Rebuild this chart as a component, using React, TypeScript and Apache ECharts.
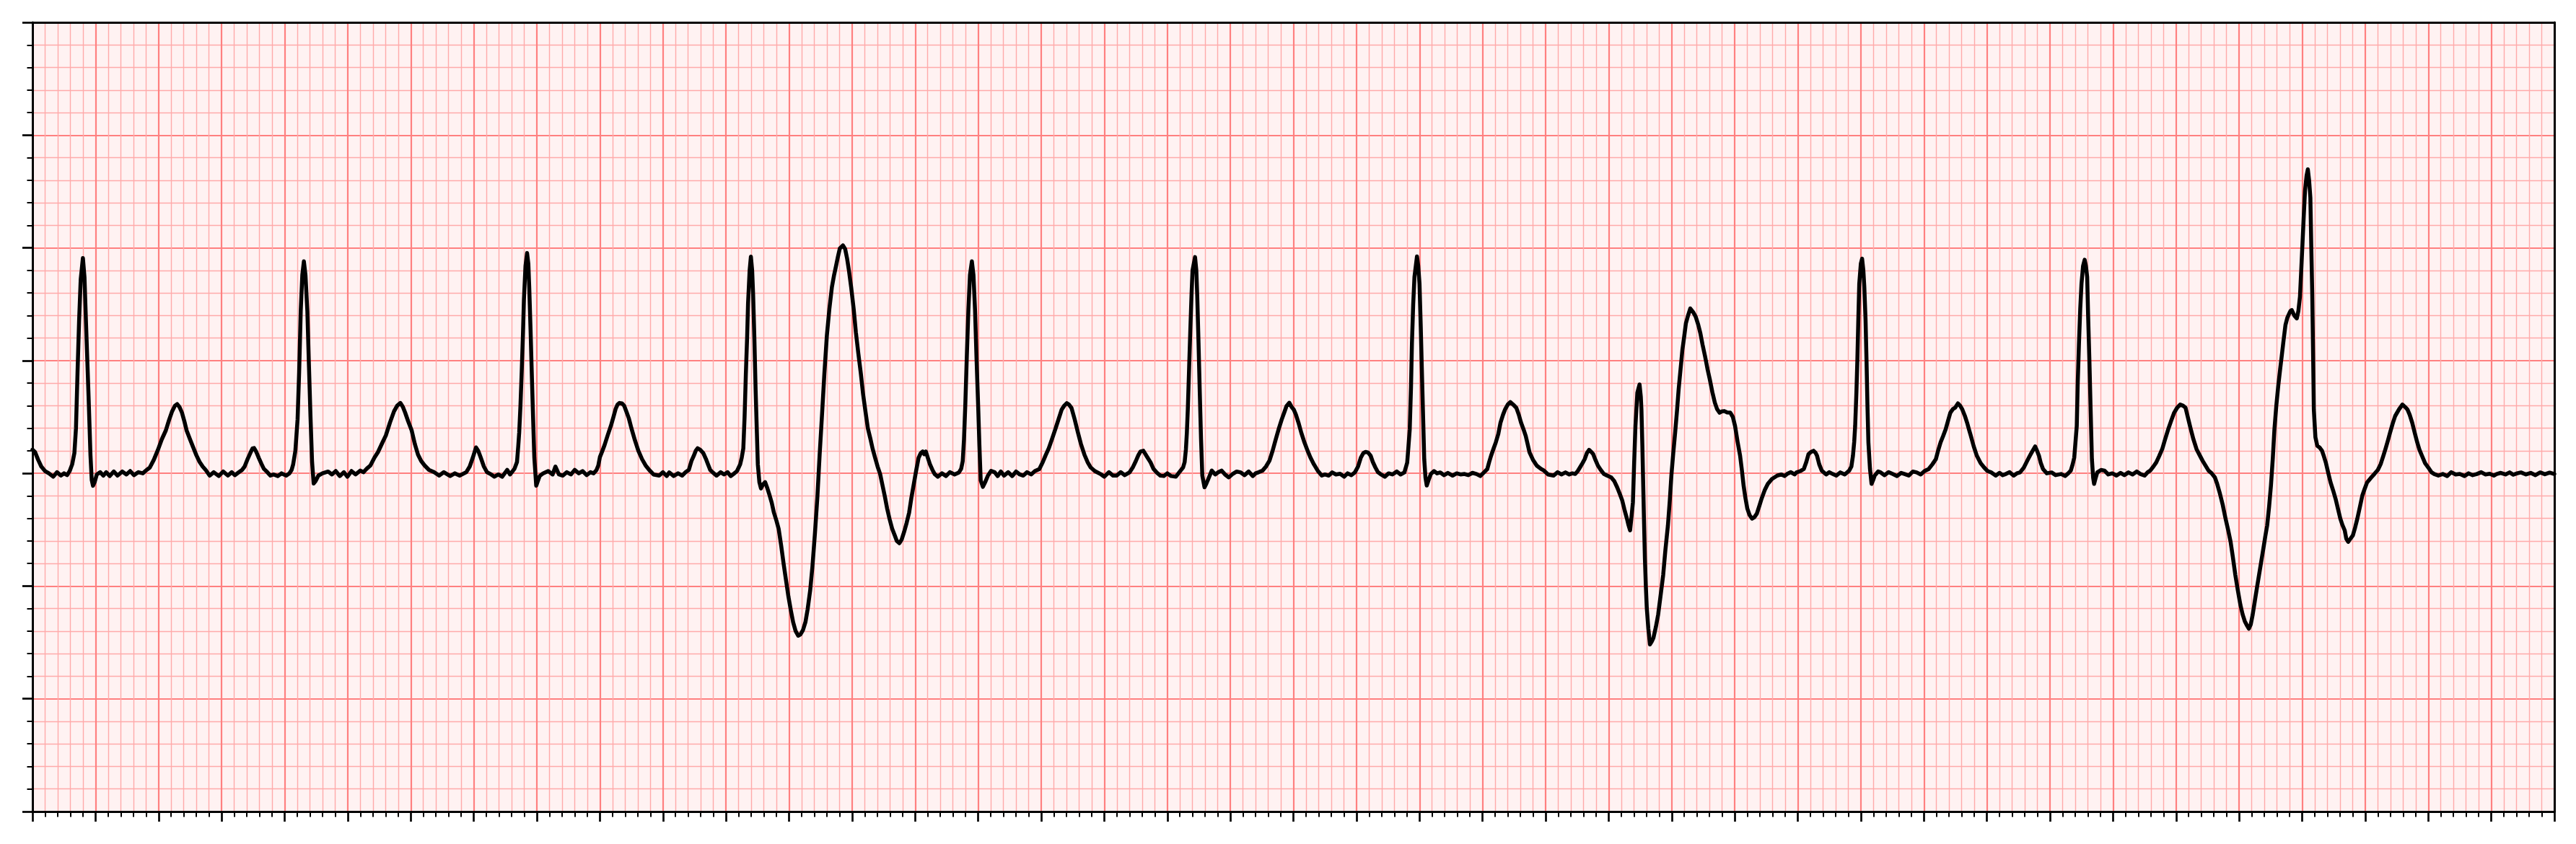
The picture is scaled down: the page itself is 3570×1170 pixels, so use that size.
import React, { useEffect, useRef } from "react";
import * as echarts from "echarts";

// ECG trace: [time (s), voltage (mV)], split by stretch of strip
const stripA = [
  [0.000, 0.105], [0.008, 0.095], [0.018, 0.06], [0.028, 0.03], [0.040, 0.01], [0.052, 0.0], [0.066, -0.015],
  [0.078, 0.005], [0.090, -0.01], [0.100, 0.0], [0.110, -0.008], [0.118, 0.01], [0.126, 0.04], [0.133, 0.09],
  [0.138, 0.2], [0.143, 0.45], [0.148, 0.68], [0.153, 0.86], [0.160, 0.955], [0.165, 0.87], [0.170, 0.66],
  [0.178, 0.34], [0.184, 0.08], [0.188, -0.03], [0.192, -0.055], [0.197, -0.04], [0.204, -0.005], [0.215, 0.005],
  [0.225, -0.01], [0.234, 0.005], [0.245, -0.012], [0.258, 0.008], [0.270, -0.01], [0.285, 0.008], [0.298, -0.005],
  [0.310, 0.01], [0.322, -0.008], [0.336, 0.005], [0.350, 0.0], [0.362, 0.015], [0.372, 0.025], [0.385, 0.06],
  [0.398, 0.104], [0.410, 0.15], [0.423, 0.19], [0.433, 0.235], [0.443, 0.275], [0.452, 0.3], [0.459, 0.307],
  [0.466, 0.295], [0.474, 0.27], [0.482, 0.23], [0.489, 0.19], [0.500, 0.15], [0.510, 0.115], [0.520, 0.08],
  [0.530, 0.051], [0.540, 0.03], [0.550, 0.014], [0.562, -0.01], [0.575, 0.005], [0.591, -0.012], [0.605, 0.008],
  [0.620, -0.01], [0.632, 0.005], [0.642, -0.008], [0.655, 0.005], [0.665, 0.015], [0.673, 0.03], [0.683, 0.065],
  [0.691, 0.09], [0.698, 0.11], [0.703, 0.112], [0.710, 0.095], [0.719, 0.065], [0.727, 0.04], [0.734, 0.02],
  [0.745, 0.005], [0.755, -0.01], [0.765, -0.005], [0.778, -0.012], [0.790, 0.0], [0.805, -0.01], [0.815, 0.0],
  [0.822, 0.015], [0.827, 0.04], [0.834, 0.1], [0.841, 0.24], [0.846, 0.45], [0.851, 0.72], [0.856, 0.88],
  [0.861, 0.94], [0.866, 0.88], [0.872, 0.72], [0.877, 0.48], [0.882, 0.25], [0.887, 0.05], [0.892, -0.045],
  [0.898, -0.035], [0.907, -0.01], [0.920, 0.0], [0.938, 0.008], [0.950, -0.005], [0.962, 0.01], [0.975, -0.012],
  [0.988, 0.005], [0.999, -0.015], [1.012, 0.01], [1.025, -0.005], [1.040, 0.012], [1.050, 0.005], [1.060, 0.02],
  [1.072, 0.035], [1.085, 0.07], [1.096, 0.094], [1.108, 0.13], [1.121, 0.168], [1.134, 0.225], [1.147, 0.275],
  [1.157, 0.3], [1.167, 0.312], [1.175, 0.295], [1.182, 0.27], [1.192, 0.23], [1.203, 0.19], [1.213, 0.13],
  [1.223, 0.083], [1.233, 0.055], [1.244, 0.035], [1.258, 0.015], [1.274, 0.005], [1.290, -0.01], [1.305, 0.005],
  [1.325, -0.012], [1.340, 0.0], [1.355, -0.01], [1.376, 0.005], [1.387, 0.03], [1.397, 0.07], [1.407, 0.115],
  [1.414, 0.1], [1.422, 0.07], [1.432, 0.03], [1.442, 0.005], [1.455, -0.005],
];

const stripB = [
  [1.465, -0.015], [1.478, -0.005], [1.490, -0.015], [1.506, 0.015], [1.515, -0.005], [1.529, 0.02], [1.537, 0.05],
  [1.541, 0.12], [1.544, 0.18], [1.548, 0.3], [1.552, 0.45], [1.556, 0.62], [1.559, 0.77], [1.564, 0.92],
  [1.569, 0.977], [1.573, 0.93], [1.576, 0.82], [1.580, 0.64], [1.584, 0.44], [1.588, 0.25], [1.592, 0.07],
  [1.598, -0.055], [1.603, -0.035], [1.609, -0.012], [1.620, 0.0], [1.636, 0.01], [1.650, -0.005], [1.659, 0.03],
  [1.670, -0.005], [1.682, -0.01], [1.695, 0.005], [1.708, -0.005], [1.720, 0.015], [1.733, 0.0], [1.745, 0.01],
  [1.758, -0.008], [1.770, 0.005], [1.780, 0.0], [1.789, 0.014], [1.795, 0.035], [1.800, 0.072], [1.808, 0.1],
  [1.815, 0.126], [1.825, 0.17], [1.835, 0.211], [1.843, 0.25], [1.850, 0.286], [1.856, 0.305], [1.862, 0.312],
  [1.870, 0.31], [1.877, 0.3], [1.885, 0.27], [1.892, 0.243], [1.900, 0.2], [1.911, 0.147], [1.922, 0.1],
  [1.934, 0.062], [1.945, 0.035], [1.957, 0.014], [1.970, -0.005], [1.988, -0.01], [2.000, 0.005], [2.012, -0.012],
  [2.020, 0.004], [2.034, -0.012], [2.048, 0.0], [2.061, -0.01], [2.072, 0.005], [2.082, 0.015], [2.091, 0.057],
  [2.097, 0.075], [2.104, 0.1], [2.110, 0.111], [2.118, 0.105], [2.128, 0.09], [2.136, 0.065], [2.143, 0.04],
  [2.150, 0.015], [2.158, 0.004], [2.170, -0.01], [2.183, 0.005], [2.194, -0.005],
];

const stripC = [
  [2.205, 0.005], [2.215, -0.012], [2.224, -0.003], [2.235, 0.01], [2.245, 0.04], [2.250, 0.07], [2.255, 0.111],
  [2.259, 0.25], [2.263, 0.44], [2.267, 0.6], [2.270, 0.754], [2.275, 0.9], [2.279, 0.961], [2.283, 0.9],
  [2.286, 0.797], [2.290, 0.6], [2.294, 0.369], [2.298, 0.18], [2.301, 0.04], [2.306, -0.04], [2.311, -0.067],
  [2.317, -0.05], [2.324, -0.039], [2.331, -0.065], [2.338, -0.096], [2.345, -0.13], [2.352, -0.174], [2.360, -0.21],
  [2.367, -0.246], [2.375, -0.32], [2.383, -0.403], [2.390, -0.47], [2.398, -0.546], [2.406, -0.61], [2.413, -0.66],
  [2.421, -0.7], [2.429, -0.72], [2.436, -0.715], [2.444, -0.696], [2.452, -0.66], [2.459, -0.603], [2.467, -0.52],
  [2.474, -0.417], [2.482, -0.27], [2.490, -0.103], [2.497, 0.08], [2.505, 0.269], [2.512, 0.44], [2.520, 0.611],
  [2.528, 0.73], [2.536, 0.826], [2.543, 0.88], [2.549, 0.919], [2.555, 0.96], [2.561, 0.997], [2.571, 1.011],
  [2.578, 0.995], [2.584, 0.954], [2.590, 0.9], [2.597, 0.826], [2.605, 0.73], [2.612, 0.626], [2.620, 0.53],
  [2.628, 0.44], [2.635, 0.35], [2.643, 0.269], [2.650, 0.2], [2.658, 0.154], [2.665, 0.11], [2.673, 0.069],
  [2.681, 0.03], [2.689, -0.003], [2.696, -0.05], [2.704, -0.103], [2.711, -0.155], [2.719, -0.203], [2.727, -0.245],
  [2.735, -0.274], [2.742, -0.3], [2.750, -0.31], [2.757, -0.295], [2.765, -0.26], [2.773, -0.22], [2.781, -0.174],
  [2.788, -0.11], [2.796, -0.046], [2.803, 0.01], [2.811, 0.069], [2.818, 0.09], [2.824, 0.097], [2.829, 0.085],
  [2.834, 0.097], [2.840, 0.07], [2.847, 0.04], [2.855, 0.015], [2.862, -0.003], [2.872, -0.015], [2.885, 0.0],
  [2.898, -0.012], [2.910, 0.005], [2.925, -0.005], [2.939, 0.004], [2.946, 0.02], [2.951, 0.054], [2.955, 0.15],
  [2.959, 0.297], [2.964, 0.52], [2.969, 0.726], [2.974, 0.88], [2.980, 0.94], [2.985, 0.88], [2.990, 0.726],
  [2.995, 0.5], [3.000, 0.297], [3.004, 0.12], [3.008, -0.031], [3.015, -0.06], [3.022, -0.04], [3.031, -0.01],
  [3.041, 0.011], [3.052, 0.005], [3.062, -0.012], [3.072, 0.008], [3.082, -0.01], [3.095, 0.005], [3.108, -0.012],
  [3.120, 0.008], [3.132, -0.005], [3.143, -0.01], [3.155, 0.005], [3.168, -0.005], [3.180, 0.01], [3.194, 0.019],
  [3.205, 0.05], [3.214, 0.08], [3.224, 0.111], [3.235, 0.155], [3.245, 0.197], [3.255, 0.24], [3.265, 0.283],
  [3.273, 0.3], [3.281, 0.311], [3.288, 0.305], [3.296, 0.29], [3.306, 0.24], [3.316, 0.183], [3.326, 0.13],
  [3.337, 0.083], [3.347, 0.05], [3.357, 0.026], [3.370, 0.01], [3.388, -0.003], [3.400, -0.015], [3.415, 0.005],
  [3.428, -0.01], [3.439, -0.01], [3.452, 0.005], [3.465, -0.008], [3.480, 0.004], [3.490, 0.025],
];

const stripD = [
  [3.500, 0.054], [3.508, 0.08], [3.515, 0.097], [3.524, 0.1], [3.535, 0.075], [3.547, 0.048], [3.556, 0.02],
  [3.566, 0.004], [3.578, -0.01], [3.589, -0.012], [3.600, 0.0], [3.612, -0.012], [3.627, -0.015], [3.638, 0.005],
  [3.650, 0.026], [3.655, 0.05], [3.659, 0.107], [3.662, 0.18], [3.665, 0.283], [3.669, 0.46], [3.673, 0.636],
  [3.677, 0.8], [3.680, 0.9], [3.688, 0.959], [3.692, 0.9], [3.695, 0.783], [3.699, 0.58], [3.703, 0.357],
  [3.707, 0.15], [3.711, -0.01], [3.718, -0.062], [3.724, -0.045], [3.730, -0.025], [3.741, 0.012], [3.752, -0.005],
  [3.762, 0.005], [3.772, 0.012], [3.783, -0.005], [3.795, -0.018], [3.808, -0.002], [3.820, 0.008], [3.833, 0.004],
  [3.845, -0.008], [3.858, 0.008], [3.871, -0.012], [3.880, 0.0], [3.890, 0.005], [3.902, 0.012], [3.913, 0.03],
  [3.924, 0.056], [3.934, 0.1], [3.944, 0.151], [3.953, 0.195], [3.963, 0.239], [3.971, 0.27], [3.978, 0.298],
  [3.987, 0.313], [3.994, 0.295], [4.001, 0.283], [4.008, 0.26], [4.016, 0.225], [4.025, 0.18], [4.035, 0.137],
  [4.045, 0.1], [4.054, 0.07], [4.065, 0.04], [4.077, 0.012], [4.090, -0.01], [4.100, -0.005], [4.112, -0.01],
  [4.123, 0.004], [4.135, -0.005], [4.148, -0.002], [4.161, -0.015], [4.172, 0.0], [4.184, -0.008], [4.195, 0.004],
  [4.205, 0.03], [4.214, 0.07], [4.222, 0.09], [4.229, 0.095], [4.237, 0.092], [4.245, 0.078], [4.252, 0.05],
  [4.260, 0.026], [4.268, 0.005], [4.276, -0.003], [4.290, -0.015], [4.302, 0.0], [4.314, -0.005], [4.328, 0.008],
  [4.340, -0.005], [4.352, 0.004], [4.361, 0.048], [4.365, 0.12], [4.369, 0.195], [4.373, 0.38], [4.376, 0.577],
  [4.380, 0.75], [4.384, 0.871], [4.392, 0.962], [4.396, 0.92], [4.400, 0.841], [4.404, 0.65], [4.408, 0.43],
  [4.412, 0.22], [4.415, 0.063], [4.419, -0.02], [4.423, -0.054], [4.430, -0.025], [4.436, -0.003], [4.446, 0.01],
  [4.456, 0.0], [4.466, 0.004], [4.478, -0.008], [4.490, 0.002], [4.505, -0.01], [4.518, 0.0], [4.530, -0.005],
  [4.543, -0.003], [4.555, -0.008], [4.568, 0.002], [4.581, -0.003], [4.593, -0.012],
];

const stripE = [
  [4.605, 0.005], [4.615, 0.019], [4.621, 0.05], [4.627, 0.078], [4.635, 0.11], [4.642, 0.137], [4.650, 0.175],
  [4.657, 0.225], [4.665, 0.26], [4.672, 0.285], [4.680, 0.305], [4.688, 0.316], [4.697, 0.305], [4.707, 0.291],
  [4.715, 0.26], [4.722, 0.225], [4.730, 0.195], [4.737, 0.166], [4.743, 0.13], [4.749, 0.093], [4.760, 0.06],
  [4.772, 0.034], [4.785, 0.02], [4.795, 0.012], [4.808, -0.005], [4.825, -0.01], [4.838, 0.005], [4.850, -0.005],
  [4.863, 0.004], [4.875, -0.005], [4.885, 0.0], [4.894, -0.003], [4.902, 0.01], [4.909, 0.026], [4.917, 0.045],
  [4.924, 0.063], [4.931, 0.09], [4.938, 0.104], [4.945, 0.095], [4.951, 0.085], [4.958, 0.06], [4.966, 0.034],
  [4.975, 0.015], [4.985, -0.003], [4.995, -0.01], [5.008, -0.018], [5.018, -0.035], [5.027, -0.062], [5.035, -0.09],
  [5.043, -0.12], [5.050, -0.16], [5.058, -0.201], [5.063, -0.23], [5.068, -0.253], [5.072, -0.2], [5.077, -0.128],
  [5.081, 0.05], [5.085, 0.21], [5.091, 0.357], [5.098, 0.394], [5.102, 0.34], [5.104, 0.283], [5.107, 0.12],
  [5.109, -0.01], [5.112, -0.2], [5.115, -0.377], [5.118, -0.5], [5.121, -0.598], [5.126, -0.69], [5.131, -0.759],
  [5.137, -0.745], [5.142, -0.73], [5.150, -0.68], [5.157, -0.627], [5.165, -0.54], [5.173, -0.451], [5.180, -0.34],
  [5.188, -0.231], [5.194, -0.12], [5.199, -0.01], [5.205, 0.09], [5.211, 0.181], [5.217, 0.28], [5.222, 0.372],
  [5.228, 0.46], [5.234, 0.548], [5.240, 0.61], [5.245, 0.665], [5.252, 0.7], [5.259, 0.731], [5.268, 0.715],
  [5.276, 0.695], [5.284, 0.66], [5.291, 0.621], [5.298, 0.57], [5.306, 0.518], [5.314, 0.46], [5.321, 0.416],
  [5.329, 0.36], [5.337, 0.313], [5.344, 0.285], [5.352, 0.269], [5.360, 0.275], [5.367, 0.276], [5.376, 0.27],
  [5.386, 0.269], [5.394, 0.25], [5.401, 0.21], [5.409, 0.14], [5.417, 0.078], [5.423, 0.01], [5.428, -0.054],
  [5.434, -0.11], [5.440, -0.157], [5.447, -0.185], [5.455, -0.201], [5.462, -0.195], [5.470, -0.179], [5.478, -0.145],
  [5.485, -0.113], [5.495, -0.075], [5.505, -0.047], [5.518, -0.025], [5.535, -0.01], [5.548, -0.005], [5.558, -0.012],
  [5.566, -0.003], [5.578, 0.005], [5.590, -0.005], [5.596, 0.004], [5.608, 0.01], [5.619, 0.019], [5.627, 0.05],
  [5.634, 0.085], [5.642, 0.095], [5.650, 0.1], [5.656, 0.092], [5.661, 0.078], [5.668, 0.04], [5.676, 0.012],
  [5.690, -0.005], [5.700, 0.005], [5.711, -0.003], [5.722, -0.01], [5.735, 0.004], [5.749, -0.005],
];

const stripF = [
  [5.763, 0.012], [5.770, 0.03], [5.775, 0.078], [5.779, 0.14], [5.782, 0.21], [5.786, 0.36], [5.789, 0.504],
  [5.792, 0.68], [5.795, 0.841], [5.800, 0.93], [5.804, 0.952], [5.808, 0.9], [5.811, 0.827], [5.815, 0.68],
  [5.818, 0.504], [5.821, 0.3], [5.824, 0.137], [5.829, 0.02], [5.834, -0.047], [5.839, -0.03], [5.844, -0.01],
  [5.855, 0.008], [5.863, 0.004], [5.875, -0.008], [5.888, 0.005], [5.901, -0.003], [5.915, -0.012], [5.928, 0.002],
  [5.939, -0.003], [5.952, -0.01], [5.965, 0.008], [5.977, 0.004], [5.990, -0.005], [6.002, 0.01], [6.015, 0.019],
  [6.027, 0.04], [6.038, 0.063], [6.045, 0.1], [6.053, 0.137], [6.061, 0.165], [6.069, 0.195], [6.077, 0.235],
  [6.084, 0.269], [6.092, 0.285], [6.099, 0.291], [6.108, 0.31], [6.115, 0.3], [6.122, 0.283], [6.130, 0.255],
  [6.137, 0.225], [6.143, 0.195], [6.149, 0.166], [6.158, 0.12], [6.168, 0.078], [6.180, 0.045], [6.191, 0.026],
  [6.202, 0.01], [6.214, 0.004], [6.228, -0.01], [6.240, 0.002], [6.250, -0.008], [6.260, -0.003], [6.272, 0.005],
  [6.285, -0.01], [6.295, 0.0], [6.305, 0.004], [6.317, 0.025], [6.328, 0.056], [6.335, 0.075], [6.342, 0.093],
  [6.353, 0.119], [6.359, 0.1], [6.365, 0.078], [6.371, 0.045], [6.378, 0.019], [6.390, 0.0], [6.405, 0.004],
  [6.418, -0.008], [6.435, -0.003], [6.448, -0.012], [6.458, 0.0], [6.466, 0.012], [6.472, 0.04], [6.477, 0.07],
  [6.481, 0.14], [6.485, 0.21], [6.488, 0.4], [6.492, 0.577], [6.496, 0.73], [6.500, 0.841], [6.505, 0.92],
  [6.510, 0.947], [6.514, 0.92], [6.518, 0.871], [6.521, 0.7], [6.525, 0.504], [6.529, 0.28], [6.533, 0.063],
  [6.537, -0.02], [6.540, -0.047], [6.545, -0.02], [6.550, 0.004], [6.562, 0.015], [6.573, 0.012], [6.585, -0.005],
  [6.598, 0.0], [6.611, -0.01], [6.624, 0.002], [6.636, -0.008], [6.649, 0.004], [6.662, -0.005], [6.675, 0.008],
  [6.687, -0.003], [6.700, -0.01], [6.710, 0.005], [6.718, 0.012], [6.728, 0.03], [6.737, 0.048], [6.746, 0.075],
  [6.756, 0.107], [6.765, 0.15], [6.775, 0.195], [6.785, 0.235], [6.794, 0.269], [6.803, 0.29], [6.813, 0.305],
  [6.822, 0.3], [6.830, 0.291], [6.845, 0.205], [6.855, 0.151], [6.865, 0.107], [6.875, 0.08], [6.884, 0.056],
  [6.893, 0.035],
];

const stripG = [
  [6.903, 0.012], [6.913, 0.0], [6.923, -0.018], [6.930, -0.045], [6.938, -0.084], [6.948, -0.14], [6.957, -0.201],
  [6.965, -0.25], [6.973, -0.304], [6.980, -0.37], [6.988, -0.451], [6.996, -0.52], [7.004, -0.583], [7.011, -0.625],
  [7.018, -0.656], [7.025, -0.675], [7.031, -0.689], [7.037, -0.67], [7.043, -0.627], [7.050, -0.565], [7.058, -0.495],
  [7.068, -0.41], [7.077, -0.333], [7.083, -0.28], [7.089, -0.231], [7.095, -0.15], [7.101, -0.054], [7.107, 0.07],
  [7.112, 0.195], [7.118, 0.3], [7.124, 0.386], [7.130, 0.46], [7.135, 0.518], [7.141, 0.59], [7.147, 0.658],
  [7.153, 0.69], [7.159, 0.709], [7.163, 0.72], [7.167, 0.724], [7.175, 0.7], [7.183, 0.687], [7.188, 0.72],
  [7.193, 0.783], [7.197, 0.9], [7.201, 1.018], [7.205, 1.14], [7.209, 1.253], [7.214, 1.32], [7.218, 1.348],
  [7.222, 1.3], [7.226, 1.223], [7.229, 1.0], [7.232, 0.797], [7.235, 0.5], [7.237, 0.283], [7.242, 0.16],
  [7.248, 0.122], [7.255, 0.115], [7.263, 0.1], [7.269, 0.075], [7.275, 0.048], [7.283, 0.0], [7.290, -0.04],
  [7.298, -0.075], [7.306, -0.113], [7.314, -0.16], [7.321, -0.201], [7.328, -0.23], [7.335, -0.253], [7.340, -0.29],
  [7.346, -0.304], [7.353, -0.29], [7.361, -0.275], [7.368, -0.24], [7.375, -0.201], [7.383, -0.15], [7.391, -0.098],
  [7.398, -0.07], [7.406, -0.04], [7.418, -0.02], [7.429, -0.003], [7.440, 0.015], [7.449, 0.041], [7.457, 0.075],
  [7.464, 0.107], [7.472, 0.145], [7.479, 0.181], [7.487, 0.22], [7.495, 0.254], [7.507, 0.283], [7.518, 0.305],
  [7.526, 0.295], [7.534, 0.283], [7.541, 0.26], [7.549, 0.225], [7.557, 0.18], [7.565, 0.137], [7.572, 0.105],
  [7.580, 0.078], [7.590, 0.045], [7.600, 0.026], [7.610, 0.005], [7.619, -0.003], [7.632, -0.01], [7.646, -0.003],
  [7.660, -0.012], [7.673, 0.005], [7.687, -0.005], [7.700, -0.003], [7.715, -0.012], [7.728, 0.0], [7.741, -0.008],
  [7.754, -0.003], [7.768, 0.005], [7.781, -0.005], [7.795, -0.002], [7.808, -0.01], [7.817, -0.003], [7.830, 0.002],
  [7.845, -0.005], [7.858, 0.004], [7.870, -0.006], [7.882, 0.0], [7.894, 0.004], [7.910, -0.005], [7.925, 0.002],
  [7.940, -0.008], [7.955, 0.004], [7.970, -0.004], [7.985, 0.003], [8.000, -0.003],
];

// Axis extents (ECG paper: 0.2 s / 0.5 mV major boxes, 5 small boxes each)
const timeRange = [0, 8];
const timeMajorStep = 0.2;
const voltRange = [-1.5, 2.0];
const voltMajorStep = 0.5;
const smallBoxesPerBig = 5;

export default function App() {
  const ref = useRef<HTMLDivElement>(null);

  useEffect(() => {
    if (!ref.current) return;
    const chart = echarts.init(ref.current, undefined, { renderer: "svg" });
    const trace = [...stripA, ...stripB, ...stripC, ...stripD, ...stripE, ...stripF, ...stripG];

    const majorColor = "#ff8080";
    const minorColor = "#ffaaaa";

    chart.setOption({
      animation: false,
      backgroundColor: "#ffffff",
      grid: {
        left: 45,
        right: 30,
        top: 31,
        bottom: 45,
        show: true,
        backgroundColor: "#fff2f2",
        borderWidth: 0,
      },
      xAxis: [
        {
          type: "value",
          min: timeRange[0],
          max: timeRange[1],
          interval: timeMajorStep,
          position: "bottom",
          axisLine: { show: true, onZero: false, lineStyle: { color: "#000", width: 3 } },
          axisTick: { show: true, length: 14, lineStyle: { color: "#000", width: 2.7 } },
          minorTick: { show: true, splitNumber: smallBoxesPerBig, length: 7.5, lineStyle: { color: "#000", width: 2 } },
          axisLabel: { show: false },
          splitLine: { show: true, showMinLine: false, showMaxLine: false, lineStyle: { color: majorColor, width: 2.2 } },
          minorSplitLine: { show: true, lineStyle: { color: minorColor, width: 1.4 } },
        },
        {
          type: "value",
          min: timeRange[0],
          max: timeRange[1],
          position: "top",
          axisLine: { show: true, onZero: false, lineStyle: { color: "#000", width: 3 } },
          axisTick: { show: false },
          axisLabel: { show: false },
          splitLine: { show: false },
        },
      ],
      yAxis: [
        {
          type: "value",
          min: voltRange[0],
          max: voltRange[1],
          interval: voltMajorStep,
          position: "left",
          axisLine: { show: true, onZero: false, lineStyle: { color: "#000", width: 3 } },
          axisTick: { show: true, length: 14, lineStyle: { color: "#000", width: 2.7 } },
          minorTick: { show: true, splitNumber: smallBoxesPerBig, length: 7.5, lineStyle: { color: "#000", width: 2 } },
          axisLabel: { show: false },
          splitLine: { show: true, showMinLine: false, showMaxLine: false, lineStyle: { color: majorColor, width: 2.2 } },
          minorSplitLine: { show: true, lineStyle: { color: minorColor, width: 1.4 } },
        },
        {
          type: "value",
          min: voltRange[0],
          max: voltRange[1],
          position: "right",
          axisLine: { show: true, onZero: false, lineStyle: { color: "#000", width: 3 } },
          axisTick: { show: false },
          axisLabel: { show: false },
          splitLine: { show: false },
        },
      ],
      series: [
        {
          type: "line",
          xAxisIndex: 0,
          yAxisIndex: 0,
          data: trace,
          showSymbol: false,
          symbol: "none",
          smooth: false,
          clip: true,
          lineStyle: { color: "#000000", width: 5.5, cap: "round", join: "round" },
          z: 5,
        },
      ],
    });

    return () => chart.dispose();
  }, []);

  return (
    <div
      ref={ref}
      style={{ position: "absolute", left: 0, top: 0, width: "3570px", height: "1170px" }}
    />
  );
}
